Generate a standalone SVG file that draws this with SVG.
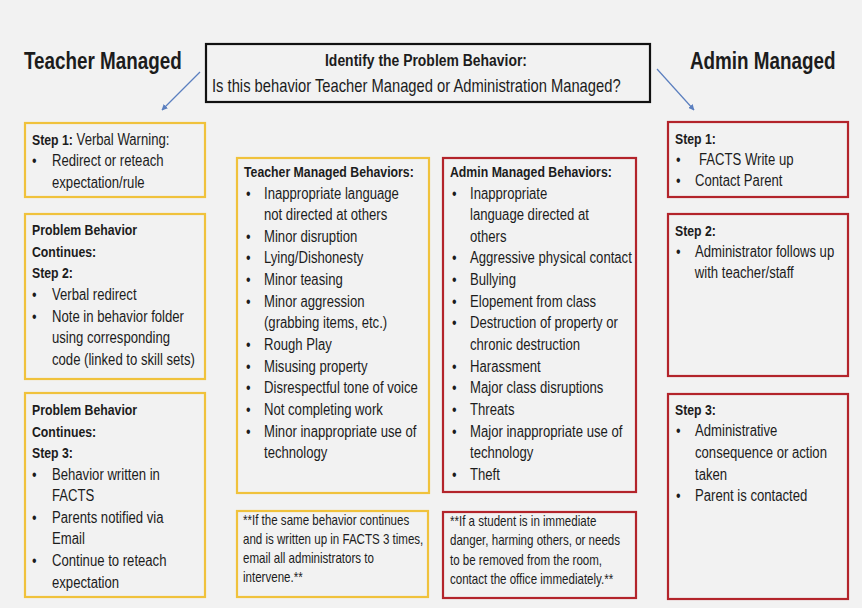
<svg xmlns="http://www.w3.org/2000/svg" width="862" height="608" viewBox="0 0 862 608">
<style>
text{font-family:"Liberation Sans",Arial,sans-serif;fill:#1c1c1c;transform-box:fill-box;transform-origin:0 50%;transform:scaleX(0.82)}
text.mid{transform-origin:50% 50%}
.t{font-size:16px}
.h{font-size:15px;font-weight:bold}
.n{font-size:14.1px}
.title{font-size:23px;font-weight:bold}
.y{fill:#f2f2f2;stroke:#f0c23c;stroke-width:2.2}
.r{fill:#f2f2f2;stroke:#b3242b;stroke-width:2.2}
.k{fill:#f2f2f2;stroke:#111;stroke-width:2.2}
.c{stroke:#5b7fbf;stroke-width:1.2;fill:none}
</style>
<defs>
<marker id="ah" viewBox="0 0 10 10" refX="9" refY="5" markerWidth="6" markerHeight="6" orient="auto" markerUnits="userSpaceOnUse"><path d="M0,0 L10,5 L0,10 z" fill="#5b7fbf"/></marker>
</defs>
<rect width="862" height="608" fill="#f2f2f2"/>

<g id="title-teacher"><text class="title" x="24" y="69">Teacher Managed</text></g>
<g id="title-admin"><text class="title" x="690" y="69">Admin Managed</text></g>

<g id="header">
<rect class="k" x="206" y="44" width="444" height="58"/>
<text class="h mid" x="426" y="66" text-anchor="middle" style="font-size:17px">Identify the Problem Behavior:</text>
<text class="t" x="212" y="92" style="font-size:18px">Is this behavior Teacher Managed or Administration Managed?</text>
</g>

<g id="connectors">
<line class="c" x1="200" y1="72" x2="162" y2="110" marker-end="url(#ah)"/>
<line class="c" x1="657" y1="69" x2="694" y2="110" marker-end="url(#ah)"/>
</g>

<g id="t-step1">
<rect class="y" x="25" y="123" width="180" height="74"/>
<text class="t" x="32" y="145"><tspan class="h">Step 1:</tspan>  Verbal Warning:</text>
<text class="t" x="32" y="166">•</text><text class="t" x="52" y="166">Redirect or reteach</text>
<text class="t" x="52" y="188">expectation/rule</text>
</g>

<g id="t-step2">
<rect class="y" x="25" y="214" width="180" height="165"/>
<text class="h" x="32" y="235">Problem Behavior</text>
<text class="h" x="32" y="257">Continues:</text>
<text class="h" x="32" y="278">Step 2:</text>
<text class="t" x="32" y="300">•</text><text class="t" x="52" y="300">Verbal redirect</text>
<text class="t" x="32" y="322">•</text><text class="t" x="52" y="322">Note in behavior folder</text>
<text class="t" x="52" y="343">using corresponding</text>
<text class="t" x="52" y="365">code (linked to skill sets)</text>
</g>

<g id="t-step3">
<rect class="y" x="25" y="393" width="180" height="204"/>
<text class="h" x="32" y="415">Problem Behavior</text>
<text class="h" x="32" y="437">Continues:</text>
<text class="h" x="32" y="458">Step 3:</text>
<text class="t" x="32" y="480">•</text><text class="t" x="52" y="480">Behavior written in</text>
<text class="t" x="52" y="501">FACTS</text>
<text class="t" x="32" y="523">•</text><text class="t" x="52" y="523">Parents notified via</text>
<text class="t" x="52" y="544">Email</text>
<text class="t" x="32" y="566">•</text><text class="t" x="52" y="566">Continue to reteach</text>
<text class="t" x="52" y="588">expectation</text>
</g>

<g id="teacher-behaviors">
<rect class="y" x="237" y="158" width="192" height="335"/>
<text class="h" x="244" y="177">Teacher Managed Behaviors:</text>
<text class="t" x="246" y="199">•</text><text class="t" x="264" y="199">Inappropriate language</text>
<text class="t" x="264" y="220">not directed at others</text>
<text class="t" x="246" y="242">•</text><text class="t" x="264" y="242">Minor disruption</text>
<text class="t" x="246" y="263">•</text><text class="t" x="264" y="263">Lying/Dishonesty</text>
<text class="t" x="246" y="285">•</text><text class="t" x="264" y="285">Minor teasing</text>
<text class="t" x="246" y="307">•</text><text class="t" x="264" y="307">Minor aggression</text>
<text class="t" x="264" y="328">(grabbing items, etc.)</text>
<text class="t" x="246" y="350">•</text><text class="t" x="264" y="350">Rough Play</text>
<text class="t" x="246" y="372">•</text><text class="t" x="264" y="372">Misusing property</text>
<text class="t" x="246" y="393">•</text><text class="t" x="264" y="393">Disrespectful tone of voice</text>
<text class="t" x="246" y="415">•</text><text class="t" x="264" y="415">Not completing work</text>
<text class="t" x="246" y="437">•</text><text class="t" x="264" y="437">Minor inappropriate use of</text>
<text class="t" x="264" y="458">technology</text>
</g>

<g id="admin-behaviors">
<rect class="r" x="443" y="158" width="193" height="334"/>
<text class="h" x="450" y="177">Admin Managed Behaviors:</text>
<text class="t" x="452" y="199">•</text><text class="t" x="470" y="199">Inappropriate</text>
<text class="t" x="470" y="220">language  directed at</text>
<text class="t" x="470" y="242">others</text>
<text class="t" x="452" y="263">•</text><text class="t" x="470" y="263">Aggressive physical contact</text>
<text class="t" x="452" y="285">•</text><text class="t" x="470" y="285">Bullying</text>
<text class="t" x="452" y="307">•</text><text class="t" x="470" y="307">Elopement from class</text>
<text class="t" x="452" y="328">•</text><text class="t" x="470" y="328">Destruction of property or</text>
<text class="t" x="470" y="350">chronic destruction</text>
<text class="t" x="452" y="372">•</text><text class="t" x="470" y="372">Harassment</text>
<text class="t" x="452" y="393">•</text><text class="t" x="470" y="393">Major class disruptions</text>
<text class="t" x="452" y="415">•</text><text class="t" x="470" y="415">Threats</text>
<text class="t" x="452" y="437">•</text><text class="t" x="470" y="437">Major inappropriate use of</text>
<text class="t" x="470" y="458">technology</text>
<text class="t" x="452" y="480">•</text><text class="t" x="470" y="480">Theft</text>
</g>

<g id="teacher-note">
<rect class="y" x="237" y="511" width="191" height="86"/>
<text class="n" x="243" y="525">**If the same behavior continues</text>
<text class="n" x="243" y="544">and is written up in FACTS 3 times,</text>
<text class="n" x="243" y="563">email all administrators to</text>
<text class="n" x="243" y="582">intervene.**</text>
</g>

<g id="admin-note">
<rect class="r" x="443" y="512" width="193" height="86"/>
<text class="n" x="450" y="526">**If a student is in immediate</text>
<text class="n" x="450" y="545">danger, harming others, or needs</text>
<text class="n" x="450" y="565">to be removed from the room,</text>
<text class="n" x="450" y="584">contact the office immediately.**</text>
</g>

<g id="a-step1">
<rect class="r" x="668" y="122" width="180" height="75"/>
<text class="h" x="675" y="144">Step 1:</text>
<text class="t" x="676" y="165">•</text><text class="t" x="699" y="165">FACTS Write up</text>
<text class="t" x="676" y="186">•</text><text class="t" x="695" y="186">Contact Parent</text>
</g>

<g id="a-step2">
<rect class="r" x="668" y="214" width="180" height="162"/>
<text class="h" x="675" y="236">Step 2:</text>
<text class="t" x="676" y="257">•</text><text class="t" x="695" y="257">Administrator follows up</text>
<text class="t" x="695" y="278">with teacher/staff</text>
</g>

<g id="a-step3">
<rect class="r" x="668" y="394" width="180" height="205"/>
<text class="h" x="675" y="415">Step 3:</text>
<text class="t" x="676" y="436">•</text><text class="t" x="695" y="436">Administrative</text>
<text class="t" x="695" y="458">consequence or action</text>
<text class="t" x="695" y="480">taken</text>
<text class="t" x="676" y="501">•</text><text class="t" x="695" y="501">Parent is contacted</text>
</g>
</svg>
